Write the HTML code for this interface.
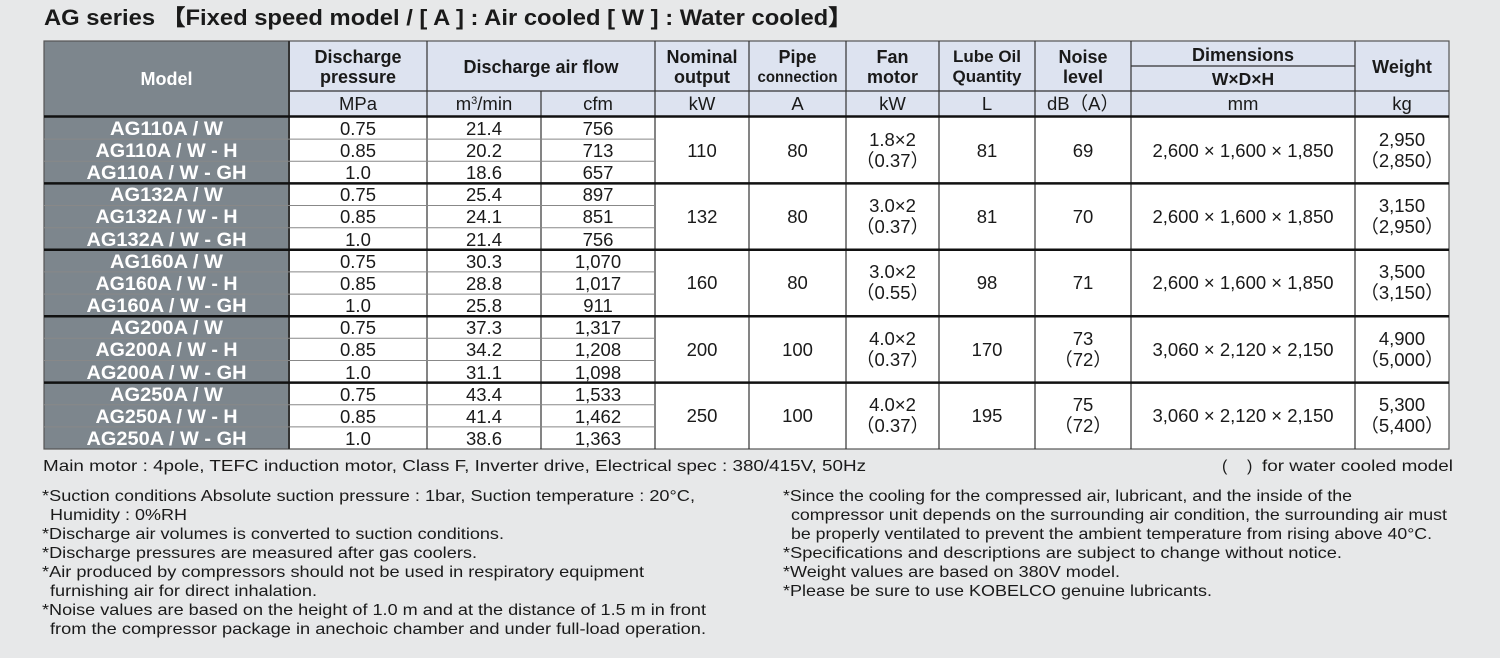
<!DOCTYPE html>
<html><head><meta charset="utf-8"><style>
html,body{margin:0;padding:0;background:#e7e8e9;}
svg{display:block;}
text{font-family:"Liberation Sans",sans-serif;fill:#1a1a1a;}
.h{font-weight:bold;font-size:18px;}
.d{font-size:18.5px;}
.m{font-weight:bold;font-size:19px;fill:#fff;}
.n{font-size:16px;}
</style></head><body>
<svg width="1500" height="658" viewBox="0 0 1500 658" xmlns="http://www.w3.org/2000/svg">
<rect width="1500" height="658" fill="#e7e8e9"/>
<text x="44" y="25" style="font-weight:bold;font-size:22px" textLength="808" lengthAdjust="spacingAndGlyphs">AG series 【Fixed speed model / [ A ] : Air cooled  [ W ] : Water cooled】</text>
<rect x="289" y="41" width="1160" height="75" fill="#dde3f0"/>
<rect x="44" y="41" width="245" height="408" fill="#7d868d"/>
<rect x="289" y="117" width="1160" height="332" fill="#fff"/>
<g stroke="#333" stroke-width="1.2" fill="none">
<rect x="44" y="41" width="1405" height="408" stroke="#555"/>
<line x1="289" y1="91" x2="1449" y2="91"/>
<line x1="1131" y1="66" x2="1355" y2="66"/>
<line x1="289" y1="41" x2="289" y2="449" stroke-width="2"/>
<line x1="427" y1="41" x2="427" y2="449"/>
<line x1="541" y1="91" x2="541" y2="449"/>
<line x1="655" y1="41" x2="655" y2="449"/>
<line x1="749" y1="41" x2="749" y2="449"/>
<line x1="846" y1="41" x2="846" y2="449"/>
<line x1="939" y1="41" x2="939" y2="449"/>
<line x1="1035" y1="41" x2="1035" y2="449"/>
<line x1="1131" y1="41" x2="1131" y2="449"/>
<line x1="1355" y1="41" x2="1355" y2="449"/>
</g>
<g stroke="#888" stroke-width="1">
<line x1="44" y1="139.1" x2="655" y2="139.1"/><line x1="44" y1="161.3" x2="655" y2="161.3"/>
<line x1="44" y1="205.5" x2="655" y2="205.5"/><line x1="44" y1="227.7" x2="655" y2="227.7"/>
<line x1="44" y1="271.9" x2="655" y2="271.9"/><line x1="44" y1="294.1" x2="655" y2="294.1"/>
<line x1="44" y1="338.3" x2="655" y2="338.3"/><line x1="44" y1="360.5" x2="655" y2="360.5"/>
<line x1="44" y1="404.7" x2="655" y2="404.7"/><line x1="44" y1="426.9" x2="655" y2="426.9"/>
</g>
<g stroke="#111" stroke-width="2.5">
<line x1="44" y1="116.5" x2="1449" y2="116.5"/>
<line x1="44" y1="183.4" x2="1449" y2="183.4"/>
<line x1="44" y1="249.8" x2="1449" y2="249.8"/>
<line x1="44" y1="316.2" x2="1449" y2="316.2"/>
<line x1="44" y1="382.6" x2="1449" y2="382.6"/>
</g>
<g text-anchor="middle">
<text class="h" x="166.5" y="85" style="fill:#fff">Model</text>
<text class="h" x="358" y="63">Discharge</text><text class="h" x="358" y="83">pressure</text>
<text class="h" x="541" y="73">Discharge air flow</text>
<text class="h" x="702" y="63">Nominal</text><text class="h" x="702" y="83">output</text>
<text class="h" x="797.5" y="63">Pipe</text><text class="h" x="797.5" y="82" style="font-size:16px" textLength="80" lengthAdjust="spacingAndGlyphs">connection</text>
<text class="h" x="892.5" y="63">Fan</text><text class="h" x="892.5" y="83">motor</text>
<text class="h" x="987" y="62" style="font-size:17px">Lube Oil</text><text class="h" x="987" y="82" style="font-size:17px">Quantity</text>
<text class="h" x="1083" y="63">Noise</text><text class="h" x="1083" y="83">level</text>
<text class="h" x="1243" y="61">Dimensions</text><text class="h" x="1243" y="85" style="font-size:17.5px">W×D×H</text>
<text class="h" x="1402" y="73">Weight</text>
<text class="d" x="358" y="110">MPa</text>
<text class="d" x="484" y="110">m<tspan dy="-6" style="font-size:11px">3</tspan><tspan dy="6">/min</tspan></text>
<text class="d" x="598" y="110">cfm</text>
<text class="d" x="702" y="110">kW</text>
<text class="d" x="797.5" y="110">A</text>
<text class="d" x="892.5" y="110">kW</text>
<text class="d" x="987" y="110">L</text>
<text class="d" x="1083" y="110">dB（A）</text>
<text class="d" x="1243" y="110">mm</text>
<text class="d" x="1402" y="110">kg</text>
</g>
<g text-anchor="middle">
<text class="m" x="166.5" y="135" textLength="113" lengthAdjust="spacingAndGlyphs">AG110A / W</text>
<text class="m" x="166.5" y="157" textLength="142" lengthAdjust="spacingAndGlyphs">AG110A / W - H</text>
<text class="m" x="166.5" y="179" textLength="160" lengthAdjust="spacingAndGlyphs">AG110A / W - GH</text>
<text class="m" x="166.5" y="201" textLength="113" lengthAdjust="spacingAndGlyphs">AG132A / W</text>
<text class="m" x="166.5" y="223" textLength="142" lengthAdjust="spacingAndGlyphs">AG132A / W - H</text>
<text class="m" x="166.5" y="246" textLength="160" lengthAdjust="spacingAndGlyphs">AG132A / W - GH</text>
<text class="m" x="166.5" y="268" textLength="113" lengthAdjust="spacingAndGlyphs">AG160A / W</text>
<text class="m" x="166.5" y="290" textLength="142" lengthAdjust="spacingAndGlyphs">AG160A / W - H</text>
<text class="m" x="166.5" y="312" textLength="160" lengthAdjust="spacingAndGlyphs">AG160A / W - GH</text>
<text class="m" x="166.5" y="334" textLength="113" lengthAdjust="spacingAndGlyphs">AG200A / W</text>
<text class="m" x="166.5" y="356" textLength="142" lengthAdjust="spacingAndGlyphs">AG200A / W - H</text>
<text class="m" x="166.5" y="379" textLength="160" lengthAdjust="spacingAndGlyphs">AG200A / W - GH</text>
<text class="m" x="166.5" y="401" textLength="113" lengthAdjust="spacingAndGlyphs">AG250A / W</text>
<text class="m" x="166.5" y="423" textLength="142" lengthAdjust="spacingAndGlyphs">AG250A / W - H</text>
<text class="m" x="166.5" y="445" textLength="160" lengthAdjust="spacingAndGlyphs">AG250A / W - GH</text>
</g>
<g text-anchor="middle">
<text class="d" x="358" y="135">0.75</text><text class="d" x="484" y="135">21.4</text><text class="d" x="598" y="135">756</text>
<text class="d" x="358" y="157">0.85</text><text class="d" x="484" y="157">20.2</text><text class="d" x="598" y="157">713</text>
<text class="d" x="358" y="179">1.0</text><text class="d" x="484" y="179">18.6</text><text class="d" x="598" y="179">657</text>
<text class="d" x="358" y="201">0.75</text><text class="d" x="484" y="201">25.4</text><text class="d" x="598" y="201">897</text>
<text class="d" x="358" y="223">0.85</text><text class="d" x="484" y="223">24.1</text><text class="d" x="598" y="223">851</text>
<text class="d" x="358" y="246">1.0</text><text class="d" x="484" y="246">21.4</text><text class="d" x="598" y="246">756</text>
<text class="d" x="358" y="268">0.75</text><text class="d" x="484" y="268">30.3</text><text class="d" x="598" y="268">1,070</text>
<text class="d" x="358" y="290">0.85</text><text class="d" x="484" y="290">28.8</text><text class="d" x="598" y="290">1,017</text>
<text class="d" x="358" y="312">1.0</text><text class="d" x="484" y="312">25.8</text><text class="d" x="598" y="312">911</text>
<text class="d" x="358" y="334">0.75</text><text class="d" x="484" y="334">37.3</text><text class="d" x="598" y="334">1,317</text>
<text class="d" x="358" y="356">0.85</text><text class="d" x="484" y="356">34.2</text><text class="d" x="598" y="356">1,208</text>
<text class="d" x="358" y="379">1.0</text><text class="d" x="484" y="379">31.1</text><text class="d" x="598" y="379">1,098</text>
<text class="d" x="358" y="401">0.75</text><text class="d" x="484" y="401">43.4</text><text class="d" x="598" y="401">1,533</text>
<text class="d" x="358" y="423">0.85</text><text class="d" x="484" y="423">41.4</text><text class="d" x="598" y="423">1,462</text>
<text class="d" x="358" y="445">1.0</text><text class="d" x="484" y="445">38.6</text><text class="d" x="598" y="445">1,363</text>
</g>
<g text-anchor="middle">
<text class="d" x="702" y="157">110</text><text class="d" x="797.5" y="157">80</text>
<text class="d" x="892.5" y="146">1.8×2</text><text class="d" x="892.5" y="167">（0.37）</text>
<text class="d" x="987" y="157">81</text><text class="d" x="1083" y="157">69</text>
<text class="d" x="1243" y="157">2,600 × 1,600 × 1,850</text>
<text class="d" x="1402" y="146">2,950</text><text class="d" x="1402" y="167">（2,850）</text>

<text class="d" x="702" y="223">132</text><text class="d" x="797.5" y="223">80</text>
<text class="d" x="892.5" y="212">3.0×2</text><text class="d" x="892.5" y="233">（0.37）</text>
<text class="d" x="987" y="223">81</text><text class="d" x="1083" y="223">70</text>
<text class="d" x="1243" y="223">2,600 × 1,600 × 1,850</text>
<text class="d" x="1402" y="212">3,150</text><text class="d" x="1402" y="233">（2,950）</text>

<text class="d" x="702" y="289">160</text><text class="d" x="797.5" y="289">80</text>
<text class="d" x="892.5" y="278">3.0×2</text><text class="d" x="892.5" y="299">（0.55）</text>
<text class="d" x="987" y="289">98</text><text class="d" x="1083" y="289">71</text>
<text class="d" x="1243" y="289">2,600 × 1,600 × 1,850</text>
<text class="d" x="1402" y="278">3,500</text><text class="d" x="1402" y="299">（3,150）</text>

<text class="d" x="702" y="356">200</text><text class="d" x="797.5" y="356">100</text>
<text class="d" x="892.5" y="345">4.0×2</text><text class="d" x="892.5" y="366">（0.37）</text>
<text class="d" x="987" y="356">170</text>
<text class="d" x="1083" y="345">73</text><text class="d" x="1083" y="366">（72）</text>
<text class="d" x="1243" y="356">3,060 × 2,120 × 2,150</text>
<text class="d" x="1402" y="345">4,900</text><text class="d" x="1402" y="366">（5,000）</text>

<text class="d" x="702" y="422">250</text><text class="d" x="797.5" y="422">100</text>
<text class="d" x="892.5" y="411">4.0×2</text><text class="d" x="892.5" y="432">（0.37）</text>
<text class="d" x="987" y="422">195</text>
<text class="d" x="1083" y="411">75</text><text class="d" x="1083" y="432">（72）</text>
<text class="d" x="1243" y="422">3,060 × 2,120 × 2,150</text>
<text class="d" x="1402" y="411">5,300</text><text class="d" x="1402" y="432">（5,400）</text>
</g>
<text class="n" x="43" y="471" textLength="823" lengthAdjust="spacingAndGlyphs">Main motor : 4pole, TEFC induction motor, Class F, Inverter drive, Electrical spec : 380/415V, 50Hz</text>
<text class="n" x="1222" y="471">(</text>
<text class="n" x="1247" y="471">)</text>
<text class="n" x="1262" y="471" textLength="191" lengthAdjust="spacingAndGlyphs">for water cooled model</text>

<text class="n" x="42" y="501" textLength="653" lengthAdjust="spacingAndGlyphs">*Suction conditions Absolute suction pressure : 1bar, Suction temperature : 20°C,</text>
<text class="n" x="50" y="520" textLength="137" lengthAdjust="spacingAndGlyphs">Humidity : 0%RH</text>
<text class="n" x="42" y="539" textLength="462" lengthAdjust="spacingAndGlyphs">*Discharge air volumes is converted to suction conditions.</text>
<text class="n" x="42" y="558" textLength="435" lengthAdjust="spacingAndGlyphs">*Discharge pressures are measured after gas coolers.</text>
<text class="n" x="42" y="577" textLength="602" lengthAdjust="spacingAndGlyphs">*Air produced by compressors should not be used in respiratory equipment</text>
<text class="n" x="50" y="596" textLength="267" lengthAdjust="spacingAndGlyphs">furnishing air for direct inhalation.</text>
<text class="n" x="42" y="615" textLength="664" lengthAdjust="spacingAndGlyphs">*Noise values are based on the height of 1.0 m and at the distance of 1.5 m in front</text>
<text class="n" x="50" y="634" textLength="656" lengthAdjust="spacingAndGlyphs">from the compressor package in anechoic chamber and under full-load operation.</text>

<text class="n" x="783" y="501" textLength="569" lengthAdjust="spacingAndGlyphs">*Since the cooling for the compressed air, lubricant, and the inside of the</text>
<text class="n" x="791" y="520" textLength="656" lengthAdjust="spacingAndGlyphs">compressor unit depends on the surrounding air condition, the surrounding air must</text>
<text class="n" x="791" y="539" textLength="641" lengthAdjust="spacingAndGlyphs">be properly ventilated to prevent the ambient temperature from rising above 40°C.</text>
<text class="n" x="783" y="558" textLength="559" lengthAdjust="spacingAndGlyphs">*Specifications and descriptions are subject to change without notice.</text>
<text class="n" x="783" y="577" textLength="337" lengthAdjust="spacingAndGlyphs">*Weight values are based on 380V model.</text>
<text class="n" x="783" y="596" textLength="429" lengthAdjust="spacingAndGlyphs">*Please be sure to use KOBELCO genuine lubricants.</text>
</svg>
</body></html>
